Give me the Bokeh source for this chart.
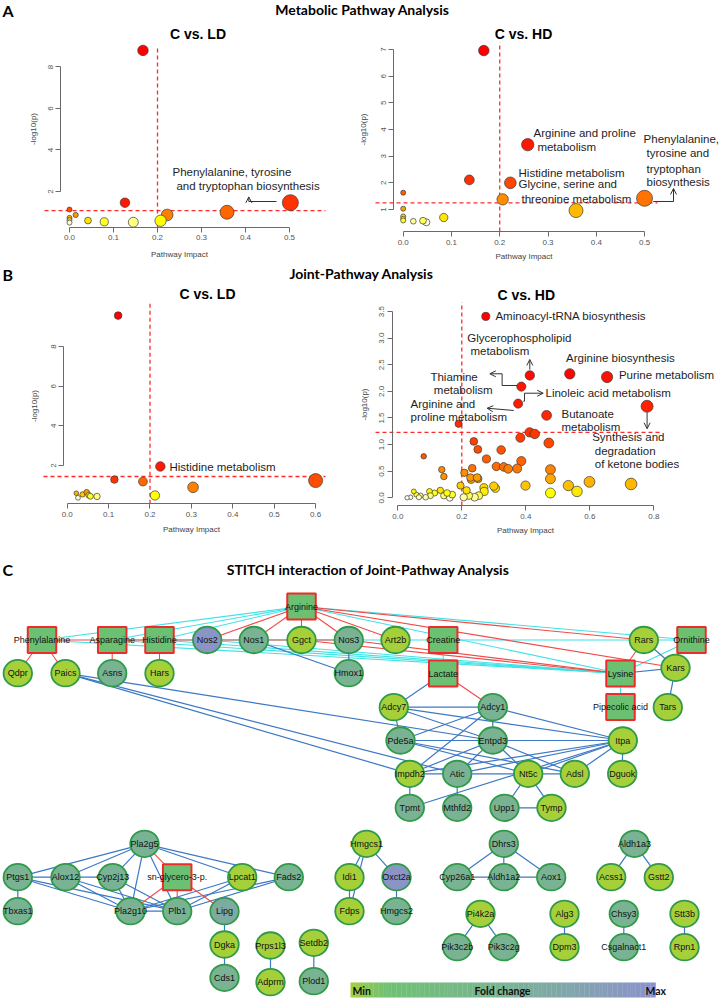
import colorsys
import numpy as np
from bokeh.plotting import figure
from bokeh.layouts import column, row
from bokeh.models import (Range1d, Label, Arrow, OpenHead, LinearAxis,
                          FixedTicker, PrintfTickFormatter, ColumnDataSource)
from bokeh.core.properties import value
from bokeh.embed import file_html
from bokeh.resources import INLINE

# ------------------------------------------------------------------ data
# Panel A  (Metabolic pathway analysis)
a1_impact = [0.167, 0.126, 0.502, 0.358, 0.222, 0.207, 0.145, 0.079, 0.042, 0.014, 0.0, 0.0, 0.0, 0.0]
a1_logp = [8.80, 1.46, 1.46, 1.00, 0.87, 0.59, 0.52, 0.54, 0.60, 0.87, 1.13, 0.73, 0.62, 0.50]
a1_thr = 1.08

a2_impact = [0.167, 0.258, 0.137, 0.222, 0.206, 0.500, 0.358, 0.084, 0.048, 0.041, 0.021, 0.0, 0.0, 0.0, 0.0, 0.0]
a2_logp = [6.96, 3.43, 2.11, 2.00, 1.38, 1.42, 0.96, 0.70, 0.52, 0.58, 0.56, 1.63, 1.03, 0.74, 0.65, 0.59]
a2_thr = 1.25

# Panel B  (Joint-pathway analysis)
b1_impact = [0.123, 0.225, 0.600, 0.114, 0.183, 0.304, 0.212, 0.022, 0.037, 0.047, 0.052, 0.056, 0.072, 0.026]
b1_logp = [9.56, 1.95, 1.24, 1.29, 1.19, 0.90, 0.49, 0.60, 0.54, 0.65, 0.50, 0.45, 0.44, 0.37]
b1_thr = 1.445

b2_impact = [0.275, 0.4125, 0.5375, 0.654, 0.386, 0.376, 0.465, 0.779, 0.190, 0.412,
             0.428, 0.383, 0.472, 0.2375, 0.250, 0.323, 0.277, 0.386, 0.081, 0.308,
             0.331, 0.345, 0.373, 0.477, 0.1375, 0.144, 0.2325, 0.208, 0.251, 0.229,
             0.477, 0.599, 0.729, 0.533, 0.399, 0.196, 0.477, 0.560, 0.305, 0.300,
             0.269, 0.270, 0.253, 0.240, 0.222, 0.215, 0.227, 0.248, 0.206, 0.1625,
             0.170, 0.144, 0.154, 0.133, 0.115, 0.099, 0.102, 0.087, 0.071, 0.058,
             0.066, 0.050, 0.040, 0.029]
b2_logp = [3.41, 2.30, 2.33, 2.27, 2.09, 1.77, 1.55, 1.72, 1.39, 1.23,
           1.20, 1.13, 1.03, 1.06, 0.91, 0.90, 0.73, 0.69, 0.78, 0.59,
           0.58, 0.545, 0.55, 0.53, 0.53, 0.40, 0.556, 0.47, 0.357, 0.34,
           0.357, 0.30, 0.26, 0.23, 0.23, 0.23, 0.09, 0.12, 0.18, 0.22,
           0.19, 0.12, 0.04, 0.01, 0.04, 0.14, 0.38, 0.38, 0.01, 0.0,
           0.06, 0.04, 0.09, 0.14, 0.09, 0.12, 0.04, 0.01, 0.04, 0.06,
           0.01, 0.12, 0.01, 0.0]
b2_thr = 1.23
impact_thr = 0.2

# Panel C  (STITCH network)
met_name = ["Arginine", "Phenylalanine", "Asparagine", "Histidine", "Creatine",
            "Ornithine", "Lactate", "Lysine", "Pipecolic acid", "sn-glycero-3-p."]
met_x = [301, 41.5, 111.7, 159, 442.7, 691, 442.7, 620, 620, 176.7]
met_y = [606, 639.5, 639.5, 639.5, 639.5, 639.5, 673, 673, 706.5, 876.7]

prot_name = ["Nos2", "Nos1", "Ggct", "Nos3", "Art2b", "Rars", "Qdpr", "Paics", "Asns", "Hars",
             "Hmox1", "Kars", "Adcy7", "Adcy1", "Tars", "Pde5a", "Entpd3", "Itpa", "Impdh2", "Atic",
             "Nt5c", "Adsl", "Dguok", "Tpmt", "Mthfd2", "Upp1", "Tymp", "Pla2g5", "Ptgs1", "Alox12",
             "Cyp2j13", "Lpcat1", "Fads2", "Tbxas1", "Pla2g10", "Plb1", "Lipg", "Dgka", "Cds1", "Prps1l3",
             "Adprm", "Setdb2", "Plod1", "Hmgcs1", "Idi1", "Fdps", "Oxct2a", "Hmgcs2", "Dhrs3", "Cyp26a1",
             "Aldh1a2", "Aox1", "Aldh1a3", "Acss1", "Gstt2", "Pi4k2a", "Pik3c2b", "Pik3c2g", "Alg3", "Dpm3",
             "Chsy3", "Csgalnact1", "Stt3b", "Rpn1"]
prot_x = [206.7, 253.3, 301, 348.3, 395, 643.3, 17.3, 65, 111.7, 159,
          348.3, 675, 393.3, 492.3, 667.3, 400, 492.3, 622.3, 409.3, 456.7,
          527.7, 574.3, 621.7, 409.3, 456.7, 504, 551, 144, 17.3, 65,
          112.3, 241.7, 288.3, 17.3, 130, 176.7, 224, 224, 224, 270,
          270, 313.3, 313.3, 366, 349, 349, 396, 396, 503.3, 456.7,
          503.3, 550.7, 634, 610.7, 658.3, 480, 456.7, 503.3, 564, 564,
          623.3, 623.3, 684, 684]
prot_y = [639.5, 639.5, 639.5, 639.5, 639.5, 639.5, 672.7, 672.7, 672.7, 672.7,
          672.7, 667.3, 706.7, 706.7, 706.7, 740, 740, 740, 773.3, 773.3,
          773.3, 773.3, 773.3, 807.3, 807.3, 807.3, 807.3, 843.3, 876.7, 876.7,
          876.7, 876.7, 876.7, 910.7, 910.7, 910.7, 910.7, 944, 977.3, 945,
          981.7, 942.3, 980.7, 843.3, 876.7, 910.7, 876.7, 910.7, 843.3, 876.7,
          876.7, 876.7, 843.3, 876.7, 876.7, 913.3, 946.7, 946.7, 913.3, 946.7,
          913.3, 946.7, 913.3, 946.7]
# relative fold change (0 = min, 1 = max)
prot_fc = [0.95, 0.5, 0.0, 0.5, 0.0, 0.0, 0.0, 0.0, 0.5, 0.0,
           0.5, 0.0, 0.0, 0.5, 0.0, 0.5, 0.5, 0.0, 0.0, 0.5,
           0.0, 0.0, 0.0, 0.5, 0.5, 0.5, 0.0, 0.5, 0.5, 0.5,
           0.5, 0.0, 0.5, 0.5, 0.5, 0.5, 0.62, 0.0, 0.5, 0.0,
           0.0, 0.0, 0.5, 0.0, 0.0, 0.0, 0.95, 0.5, 0.5, 0.5,
           0.5, 0.5, 0.5, 0.0, 0.0, 0.0, 0.5, 0.5, 0.0, 0.0,
           0.5, 0.5, 0.0, 0.0]

edges_cyan = [("Arginine", "Phenylalanine"), ("Arginine", "Asparagine"), ("Arginine", "Histidine"),
              ("Arginine", "Ornithine"), ("Arginine", "Lysine"), ("Phenylalanine", "Lysine"),
              ("Asparagine", "Lysine"), ("Histidine", "Lysine"), ("Nos2", "Lysine"),
              ("Asparagine", "Ornithine"), ("Creatine", "Lactate"), ("Lysine", "Pipecolic acid"),
              ("Lysine", "Ornithine")]
edges_red = [("Phenylalanine", "Qdpr"), ("Phenylalanine", "Paics"), ("Asparagine", "Asns"),
             ("Histidine", "Hars"), ("Phenylalanine", "Nos3"), ("Arginine", "Nos2"), ("Arginine", "Nos1"),
             ("Arginine", "Ggct"), ("Arginine", "Nos3"), ("Arginine", "Art2b"), ("Arginine", "Rars"),
             ("Arginine", "Kars"), ("Nos3", "Lysine"), ("Ggct", "Lysine"), ("Rars", "Lysine"),
             ("Lactate", "Adcy1"), ("sn-glycero-3-p.", "Pla2g5"), ("sn-glycero-3-p.", "Pla2g10"),
             ("sn-glycero-3-p.", "Plb1"), ("sn-glycero-3-p.", "Lipg")]
edges_blue = [("Nos1", "Hmox1"), ("Nos3", "Hmox1"), ("Paics", "Entpd3"), ("Paics", "Atic"),
              ("Paics", "Impdh2"), ("Lactate", "Adcy7"), ("Rars", "Kars"), ("Kars", "Tars"),
              ("Lysine", "Kars"), ("Adcy7", "Adcy1"), ("Adcy7", "Pde5a"), ("Adcy7", "Entpd3"),
              ("Adcy7", "Itpa"), ("Adcy1", "Pde5a"), ("Adcy1", "Entpd3"), ("Adcy1", "Itpa"),
              ("Adcy1", "Impdh2"), ("Pde5a", "Entpd3"), ("Pde5a", "Itpa"), ("Pde5a", "Nt5c"),
              ("Pde5a", "Adsl"), ("Entpd3", "Itpa"), ("Entpd3", "Impdh2"), ("Entpd3", "Atic"),
              ("Entpd3", "Nt5c"), ("Entpd3", "Adsl"), ("Itpa", "Impdh2"), ("Itpa", "Atic"),
              ("Itpa", "Nt5c"), ("Itpa", "Tpmt"), ("Itpa", "Dguok"), ("Itpa", "Adsl"),
              ("Impdh2", "Atic"), ("Impdh2", "Tpmt"), ("Atic", "Mthfd2"), ("Atic", "Nt5c"),
              ("Nt5c", "Adsl"), ("Nt5c", "Upp1"), ("Nt5c", "Tymp"), ("Upp1", "Tymp"),
              ("Pla2g5", "Ptgs1"), ("Pla2g5", "Alox12"), ("Pla2g5", "Cyp2j13"), ("Pla2g5", "Pla2g10"),
              ("Pla2g5", "Plb1"), ("Pla2g5", "Lpcat1"), ("Pla2g5", "Fads2"), ("Ptgs1", "Alox12"),
              ("Ptgs1", "Tbxas1"), ("Ptgs1", "Pla2g10"), ("Ptgs1", "Plb1"), ("Alox12", "Cyp2j13"),
              ("Alox12", "Pla2g10"), ("Alox12", "Plb1"), ("Cyp2j13", "Pla2g10"), ("Cyp2j13", "Plb1"),
              ("Pla2g10", "Plb1"), ("Lpcat1", "Pla2g10"), ("Lpcat1", "Plb1"), ("Fads2", "Pla2g10"),
              ("Fads2", "Plb1"), ("Lipg", "Dgka"), ("Dgka", "Cds1"), ("Prps1l3", "Adprm"),
              ("Setdb2", "Plod1"), ("Hmgcs1", "Idi1"), ("Hmgcs1", "Fdps"), ("Idi1", "Fdps"),
              ("Hmgcs1", "Oxct2a"), ("Oxct2a", "Hmgcs2"), ("Dhrs3", "Cyp26a1"), ("Dhrs3", "Aldh1a2"),
              ("Dhrs3", "Aox1"), ("Cyp26a1", "Aldh1a2"), ("Aldh1a2", "Aox1"), ("Aldh1a3", "Acss1"),
              ("Aldh1a3", "Gstt2"), ("Pi4k2a", "Pik3c2b"), ("Pi4k2a", "Pik3c2g"), ("Alg3", "Dpm3"),
              ("Chsy3", "Csgalnact1"), ("Stt3b", "Rpn1")]

# fold-change colour scale of the network (min -> max)
fc_stops = [(0.0, "#a6d03a"), (0.035, "#93ca4c"), (0.12, "#6fc173"), (0.5, "#7ab393"), (1.0, "#8c92cc")]

# ------------------------------------------------------------------ helpers
FONT = "Liberation Sans"
HEAD = "Lato"


def hexc(rgb):
    return "#%02x%02x%02x" % tuple(int(round(c * 255)) for c in rgb)


def heat_colors(n):
    j = n // 4
    i = n - j
    cols = []
    for k in range(i):
        h = (1 / 6) * (k / (i - 1)) if i > 1 else 0.0
        cols.append(hexc(colorsys.hsv_to_rgb(h, 1, 1)))
    if j > 0:
        for s in np.linspace(1 - 1 / (2 * j), 1 / (2 * j), j):
            cols.append(hexc(colorsys.hsv_to_rgb(1 / 6, s, 1)))
    return cols


def rank_colors(logp):
    pal = heat_colors(len(logp))
    order = np.argsort(-np.asarray(logp), kind="stable")
    out = [None] * len(logp)
    for r, idx in enumerate(order):
        out[idx] = pal[r]
    return out


def radii(impact, r0, r1, rmin):
    imp = np.asarray(impact, dtype=float)
    return np.maximum(rmin, r0 + r1 * np.sqrt(imp / imp.max()))


def fc_color(v):
    for (a, ca), (b, cb) in zip(fc_stops[:-1], fc_stops[1:]):
        if a <= v <= b:
            t = (v - a) / (b - a) if b > a else 0
            c1 = [int(ca[k:k + 2], 16) for k in (1, 3, 5)]
            c2 = [int(cb[k:k + 2], 16) for k in (1, 3, 5)]
            return "#%02x%02x%02x" % tuple(int(round(c1[m] + t * (c2[m] - c1[m]))) for m in range(3))
    return fc_stops[-1][1]


def blank(w, h, xr, yr):
    p = figure(width=w, height=h, x_range=Range1d(*xr), y_range=Range1d(*yr),
               x_axis_type=None, y_axis_type=None, title=None,
               toolbar_location=None, output_backend="svg", min_border=0)
    p.outline_line_color = None
    return p


def panel(w, h, xr, yr, xaxis_y, yaxis_x, region, xticks, yticks, xfmt, yfmt, x_std, y_std,
          impact, logp, thr, rpar, notes, arrows):
    p = blank(w, h, xr, yr)
    xa = LinearAxis(fixed_location=xaxis_y, ticker=FixedTicker(ticks=xticks),
                    formatter=PrintfTickFormatter(format=xfmt),
                    bounds=(xticks[0], xticks[-1]), axis_label="Pathway Impact")
    ya = LinearAxis(fixed_location=yaxis_x, ticker=FixedTicker(ticks=yticks),
                    formatter=PrintfTickFormatter(format=yfmt),
                    bounds=(yticks[0], yticks[-1]), axis_label="-log10(p)")
    for ax, std in ((xa, x_std), (ya, y_std)):
        ax.axis_line_color = "#6a6a6a"
        ax.major_tick_line_color = "#6a6a6a"
        ax.minor_tick_line_color = None
        ax.major_tick_out = 5
        ax.major_tick_in = 0
        ax.major_label_standoff = 3
        ax.major_label_text_font = FONT
        ax.major_label_text_font_size = "8px"
        ax.major_label_text_color = "#555555"
        ax.axis_label_text_font = FONT
        ax.axis_label_text_font_size = "8px"
        ax.axis_label_text_font_style = "normal"
        ax.axis_label_text_color = "#444444"
        ax.axis_label_standoff = std
    ya.major_label_orientation = "vertical"
    p.add_layout(xa, "below")
    p.add_layout(ya, "left")

    # significance thresholds, spanning the plot region
    x0, x1, ytop = region
    p.segment(x0=[x0, impact_thr], y0=[thr, xaxis_y], x1=[x1, impact_thr], y1=[thr, ytop],
              line_color="#ff2a2a", line_dash="4 3", line_width=1.3)

    r = radii(impact, *rpar)
    src = ColumnDataSource(dict(x=impact, y=logp, size=2 * r, color=rank_colors(logp)))
    p.scatter("x", "y", size="size", fill_color="color", line_color="#3a3a3a",
              line_width=0.7, source=src)

    for (x, y, t) in notes:
        p.add_layout(Label(x=x, y=y, text=t, text_font=FONT, text_font_size="11.5px",
                           text_color="#1e1e1e", text_baseline="middle", text_align="left"))
    for pts in arrows:
        for k in range(len(pts) - 1):
            last = k == len(pts) - 2
            p.add_layout(Arrow(x_start=pts[k][0], y_start=pts[k][1],
                               x_end=pts[k + 1][0], y_end=pts[k + 1][1],
                               line_color="#333333", line_width=1,
                               end=OpenHead(size=6, line_color="#333333", line_width=1) if last else None))
    return p


# ------------------------------------------------------------------ header A
hA = blank(720, 42, (0, 720), (42, 0))
hA.text(x=[2], y=[10], text=["A"], text_font=value(HEAD), text_font_style="bold",
        text_font_size="16px", text_align="left", text_baseline="middle", text_color="black")
hA.text(x=[362], y=[9], text=["Metabolic Pathway Analysis"], text_font=value(HEAD),
        text_font_style="bold", text_font_size="14px", text_align="center",
        text_baseline="middle", text_color="black")
hA.text(x=[197.5, 523], y=[33, 33], text=["C vs. LD", "C vs. HD"], text_font=value(FONT),
        text_font_style="bold", text_font_size="14px", text_align="center",
        text_baseline="middle", text_color="black")

# ------------------------------------------------------------------ panels A
pA1 = panel(360, 220, (-0.156818, 0.661364), (-1.4217, 9.1807), 0.2651, -0.02,
            (-0.05682, 0.58182, 9.036),
            [0, 0.1, 0.2, 0.3, 0.4, 0.5], [2, 4, 6, 8], "%.1f", "%d", 6, 7,
            a1_impact, a1_logp, a1_thr, (1.5, 6.5, 2.5),
            [(0.234, 2.916, "Phenylalanine, tyrosine"), (0.243, 2.241, "and tryptophan biosynthesis")],
            [[(0.4705, 1.518), (0.4075, 1.518), (0.4075, 1.74)]])
pA2 = panel(360, 220, (-0.088461, 0.657344), (-0.98725, 7.26171), 0.1751, -0.019474,
            (-0.05739, 0.52683, 7.34),
            [0, 0.1, 0.2, 0.3, 0.4, 0.5], [1, 2, 3, 4, 5, 6, 7], "%.1f", "%d", 4, 10,
            a2_impact, a2_logp, a2_thr, (1.5, 6.5, 2.5),
            [(0.270, 3.85, "Arginine and proline"), (0.278, 3.325, "metabolism"),
             (0.239, 2.387, "Histidine metabolism"), (0.239, 1.956, "Glycine, serine and"),
             (0.245, 1.412, "threonine metabolism"), (0.498, 3.662, "Phenylalanine,"),
             (0.504, 3.10, "tyrosine and"), (0.504, 2.537, "tryptophan"), (0.504, 2.03, "biosynthesis")],
            [[(0.518, 1.30), (0.560, 1.30), (0.560, 1.787)]])

# ------------------------------------------------------------------ header B
hB = blank(720, 40, (0, 720), (302, 262))
hB.text(x=[2], y=[274], text=["B"], text_font=value(HEAD), text_font_style="bold",
        text_font_size="16px", text_align="left", text_baseline="middle", text_color="black")
hB.text(x=[361], y=[273], text=["Joint-Pathway Analysis"], text_font=value(HEAD),
        text_font_style="bold", text_font_size="14px", text_align="center",
        text_baseline="middle", text_color="black")
hB.text(x=[207, 525.7], y=[293, 294], text=["C vs. LD", "C vs. HD"], text_font=value(FONT),
        text_font_style="bold", text_font_size="14px", text_align="center",
        text_baseline="middle", text_color="black")

# ------------------------------------------------------------------ panels B
pB1 = panel(360, 238, (-0.161111, 0.708454), (-1.78215, 10.21987), 0.06858, -0.008213,
            (-0.05725, 0.62391, 10.32),
            [0, 0.1, 0.2, 0.3, 0.4, 0.5, 0.6], [2, 4, 6, 8], "%.1f", "%d", 5, 9,
            b1_impact, b1_logp, b1_thr, (1.2, 5.8, 2.3),
            [(0.247, 1.9, "Histidine metabolism")], [])
pB2 = panel(360, 238, (-0.1165625, 1.0084375), (-0.80263, 3.67105), -0.14474, -0.0175,
            (-0.0697, 0.82625, 3.84),
            [0, 0.2, 0.4, 0.6, 0.8], [0, 0.5, 1.0, 1.5, 2.0, 2.5, 3.0, 3.5], "%.1f", "%.1f", 4, 8,
            b2_impact, b2_logp, b2_thr, (1.2, 4.8, 2.2),
            [(0.305, 3.408, "Aminoacyl-tRNA biosynthesis"), (0.217, 3.0, "Glycerophospholipid"),
             (0.227, 2.75, "metabolism"), (0.526, 2.632, "Arginine biosynthesis"),
             (0.691, 2.312, "Purine metabolism"), (0.102, 2.28, "Thiamine"),
             (0.1125, 2.03, "metabolism"), (0.4616, 1.974, "Linoleic acid metabolism"),
             (0.040, 1.767, "Arginine and"), (0.040, 1.515, "proline metabolism"),
             (0.5116, 1.579, "Butanoate"), (0.5116, 1.327, "metabolism"),
             (0.6075, 1.152, "Synthesis and"), (0.6156, 0.889, "degradation"),
             (0.6156, 0.626, "of ketone bodies")],
            [[(0.4125, 2.41), (0.4125, 2.60)],
             [(0.373, 2.111), (0.326, 2.111), (0.326, 2.331), (0.2875, 2.331)],
             [(0.392, 1.816), (0.396, 1.816), (0.396, 1.966), (0.4544, 1.966)],
             [(0.3625, 1.641), (0.279, 1.684)],
             [(0.779, 1.603), (0.779, 1.297)]])

# ------------------------------------------------------------------ panel C (network)
pC = blank(720, 459, (0, 720), (999, 540))
pC.text(x=[2], y=[569], text=["C"], text_font=value(HEAD), text_font_style="bold",
        text_font_size="16px", text_align="left", text_baseline="middle", text_color="black")
pC.text(x=[368], y=[569], text=["STITCH interaction of Joint-Pathway Analysis"],
        text_font=value(HEAD), text_font_style="bold", text_font_size="14px",
        text_align="center", text_baseline="middle", text_color="black")

pos = {n: (x, y) for n, x, y in zip(met_name, met_x, met_y)}
pos.update({n: (x, y) for n, x, y in zip(prot_name, prot_x, prot_y)})


def edge_src(edges):
    return ColumnDataSource(dict(x0=[pos[a][0] for a, b in edges], y0=[pos[a][1] for a, b in edges],
                                 x1=[pos[b][0] for a, b in edges], y1=[pos[b][1] for a, b in edges]))


pC.segment("x0", "y0", "x1", "y1", source=edge_src(edges_cyan), line_color="#3fe3e6", line_width=1.1)
pC.segment("x0", "y0", "x1", "y1", source=edge_src(edges_blue), line_color="#3c78c4", line_width=1.2)
pC.segment("x0", "y0", "x1", "y1", source=edge_src(edges_red), line_color="#f04a4a", line_width=1.1)

psrc = ColumnDataSource(dict(x=prot_x, y=prot_y, name=prot_name,
                             color=[fc_color(v) for v in prot_fc]))
pC.ellipse("x", "y", width=28.5, height=26.5, source=psrc, fill_color="color",
           line_color="#2f9a48", line_width=1.8)
msrc = ColumnDataSource(dict(x=met_x, y=met_y, name=met_name))
pC.rect("x", "y", width=28.5, height=26, source=msrc, fill_color="#6cc071",
        line_color="#ee2b2b", line_width=2)
for s in (psrc, msrc):
    pC.text("x", "y", text="name", source=s, text_font=value(FONT), text_font_size="9px",
            text_align="center", text_baseline="middle", text_color="#111111")

# fold-change legend bar
nseg = 120
lx0, lx1 = 350, 655
edges = np.linspace(lx0, lx1, nseg + 1)
pC.quad(left=edges[:-1], right=edges[1:] + 0.3, bottom=997, top=982,
        fill_color=[fc_color((k + 0.5) / nseg) for k in range(nseg)], line_color=None)
pC.text(x=[352, 502, 645], y=[990, 990, 990], text=["Min", "Fold change", "Max"],
        text_font=value(HEAD), text_font_style="bold", text_font_size="10.5px",
        text_align=["left", "center", "left"], text_baseline="middle", text_color="#111111")

layout = column(hA, row(pA1, pA2), hB, row(pB1, pB2), pC)
open("out.html", "w").write(file_html(layout, INLINE))
